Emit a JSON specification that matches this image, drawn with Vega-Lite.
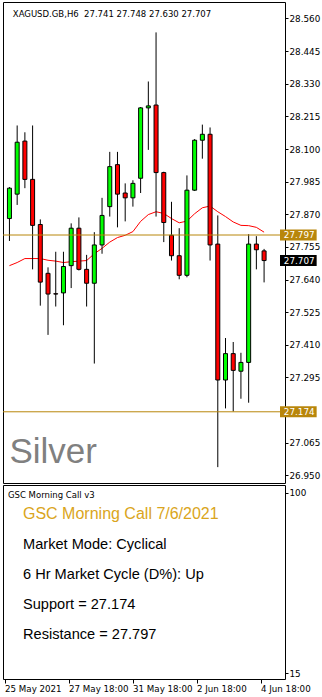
{
  "$schema": "https://vega.github.io/schema/vega-lite/v6.json",
  "padding": {"left": 1, "top": 1, "right": 0, "bottom": 0},
  "autosize": {"type": "pad"},
  "background": "white",
  "spacing": 2,
  "bounds": "flush",
  "config": {
    "view": {"stroke": "black", "strokeWidth": 1},
    "axis": {"grid": false, "domain": false, "ticks": true, "tickColor": "black", "labelColor": "black", "labelFont": "DejaVu Sans", "labelFontSize": 8.7, "labelOverlap": false, "labelBound": false, "labelFlush": false}
  },
  "datasets": {
    "candles": [
      {"i": 0, "open": 27.855, "high": 27.966, "low": 27.776, "close": 27.962, "ma": 27.689},
      {"i": 1, "open": 27.941, "high": 28.183, "low": 27.903, "close": 28.124, "ma": 27.700},
      {"i": 2, "open": 28.128, "high": 28.159, "low": 27.962, "close": 27.993, "ma": 27.714},
      {"i": 3, "open": 27.993, "high": 28.183, "low": 27.676, "close": 27.831, "ma": 27.714},
      {"i": 4, "open": 27.834, "high": 27.852, "low": 27.548, "close": 27.631, "ma": 27.714},
      {"i": 5, "open": 27.662, "high": 27.683, "low": 27.445, "close": 27.589, "ma": 27.708},
      {"i": 6, "open": 27.590, "high": 27.738, "low": 27.545, "close": 27.589, "ma": 27.705},
      {"i": 7, "open": 27.593, "high": 27.738, "low": 27.479, "close": 27.686, "ma": 27.700},
      {"i": 8, "open": 27.689, "high": 27.838, "low": 27.610, "close": 27.821, "ma": 27.703},
      {"i": 9, "open": 27.821, "high": 27.859, "low": 27.672, "close": 27.676, "ma": 27.705},
      {"i": 10, "open": 27.676, "high": 27.727, "low": 27.545, "close": 27.627, "ma": 27.707},
      {"i": 11, "open": 27.627, "high": 27.807, "low": 27.344, "close": 27.762, "ma": 27.731},
      {"i": 12, "open": 27.762, "high": 27.928, "low": 27.731, "close": 27.866, "ma": 27.750},
      {"i": 13, "open": 27.897, "high": 28.090, "low": 27.862, "close": 28.038, "ma": 27.772},
      {"i": 14, "open": 28.045, "high": 28.090, "low": 27.824, "close": 27.941, "ma": 27.788},
      {"i": 15, "open": 27.945, "high": 27.979, "low": 27.845, "close": 27.928, "ma": 27.796},
      {"i": 16, "open": 27.928, "high": 27.990, "low": 27.897, "close": 27.979, "ma": 27.809},
      {"i": 17, "open": 27.997, "high": 28.248, "low": 27.945, "close": 28.245, "ma": 27.845},
      {"i": 18, "open": 28.245, "high": 28.338, "low": 28.097, "close": 28.252, "ma": 27.869},
      {"i": 19, "open": 28.255, "high": 28.511, "low": 27.862, "close": 28.017, "ma": 27.879},
      {"i": 20, "open": 28.017, "high": 28.020, "low": 27.772, "close": 27.841, "ma": 27.873},
      {"i": 21, "open": 27.796, "high": 27.914, "low": 27.707, "close": 27.724, "ma": 27.855},
      {"i": 22, "open": 27.724, "high": 27.821, "low": 27.641, "close": 27.655, "ma": 27.840},
      {"i": 23, "open": 27.655, "high": 28.007, "low": 27.648, "close": 27.955, "ma": 27.846},
      {"i": 24, "open": 27.955, "high": 28.135, "low": 27.952, "close": 28.131, "ma": 27.872},
      {"i": 25, "open": 28.131, "high": 28.186, "low": 28.066, "close": 28.152, "ma": 27.893},
      {"i": 26, "open": 28.152, "high": 28.176, "low": 27.707, "close": 27.762, "ma": 27.899},
      {"i": 27, "open": 27.765, "high": 27.866, "low": 26.979, "close": 27.286, "ma": 27.879},
      {"i": 28, "open": 27.286, "high": 27.434, "low": 27.186, "close": 27.379, "ma": 27.862},
      {"i": 29, "open": 27.379, "high": 27.420, "low": 27.175, "close": 27.320, "ma": 27.843},
      {"i": 30, "open": 27.317, "high": 27.382, "low": 27.220, "close": 27.348, "ma": 27.831},
      {"i": 31, "open": 27.348, "high": 27.800, "low": 27.206, "close": 27.765, "ma": 27.830},
      {"i": 32, "open": 27.765, "high": 27.793, "low": 27.676, "close": 27.745, "ma": 27.824},
      {"i": 33, "open": 27.741, "high": 27.748, "low": 27.630, "close": 27.707, "ma": 27.807}
    ],
    "levels": [
      {"level": "Resistance", "price": 27.797},
      {"level": "Support", "price": 27.174}
    ],
    "notes": [
      {"line": 1, "text": "GSC Morning Call 7/6/2021"},
      {"line": 2, "text": "Market Mode: Cyclical"},
      {"line": 3, "text": "6 Hr Market Cycle (D%): Up"},
      {"line": 4, "text": "Support = 27.174"},
      {"line": 5, "text": "Resistance = 27.797"}
    ]
  },
  "vconcat": [
    {
      "width": 282,
      "height": 481,
      "layer": [
        {
          "data": {"name": "candles"},
          "mark": {"type": "line", "color": "#ff0000", "strokeWidth": 1, "clip": true},
          "encoding": {
            "x": {"field": "i", "type": "quantitative", "title": null, "scale": {"domain": [-0.1875, 35.0625], "nice": false, "zero": false}, "axis": null},
            "y": {"field": "ma", "type": "quantitative", "title": null,
                  "scale": {"domain": [26.9407, 28.6005], "nice": false, "zero": false},
                  "axis": {"orient": "right", "title": null, "values": [28.560, 28.445, 28.330, 28.215, 28.100, 27.985, 27.870, 27.755, 27.640, 27.525, 27.410, 27.295, 27.065, 26.950], "tickCount": 40, "format": ".3f", "tickSize": 3, "labelPadding": 1, "labelFontSize": 8.8, "labelOverlap": false, "labelBound": false, "labelFlush": false}}
          }
        },
        {
          "data": {"name": "candles"},
          "mark": {"type": "rule", "color": "black", "strokeWidth": 1, "clip": true},
          "encoding": {
            "x": {"field": "i", "type": "quantitative", "title": null},
            "y": {"field": "low", "type": "quantitative", "title": null},
            "y2": {"field": "high"}
          }
        },
        {
          "data": {"name": "candles"},
          "mark": {"type": "bar", "width": 4, "stroke": "black", "strokeWidth": 1, "clip": true},
          "encoding": {
            "x": {"field": "i", "type": "quantitative", "title": null},
            "y": {"field": "open", "type": "quantitative", "title": null},
            "y2": {"field": "close"},
            "fill": {"condition": {"test": "datum.close >= datum.open", "value": "#00ff00"}, "value": "#ff0000"}
          }
        },
        {
          "data": {"name": "levels"},
          "mark": {"type": "rule", "color": "#B8860B", "strokeWidth": 1},
          "encoding": {
            "y": {"field": "price", "type": "quantitative", "title": null}
          }
        },
        {
          "data": {"name": "levels"},
          "mark": {"type": "bar", "height": 11, "color": "#B8860B"},
          "encoding": {
            "x": {"datum": 35.0625, "title": null},
            "x2": {"datum": 39.8125},
            "y": {"field": "price", "type": "quantitative", "title": null}
          }
        },
        {
          "data": {"name": "levels"},
          "mark": {"type": "text", "align": "left", "baseline": "middle", "color": "white", "font": "DejaVu Sans", "fontSize": 8.8},
          "encoding": {
            "x": {"datum": 35.5625, "title": null},
            "y": {"field": "price", "type": "quantitative", "title": null},
            "text": {"field": "price", "type": "quantitative", "format": ".3f"}
          }
        },
        {
          "data": {"name": "candles"},
          "transform": [{"filter": "datum.i == 33"}],
          "mark": {"type": "bar", "height": 11, "color": "black"},
          "encoding": {
            "x": {"datum": 35.0625, "title": null},
            "x2": {"datum": 39.8125},
            "y": {"field": "close", "type": "quantitative", "title": null}
          }
        },
        {
          "data": {"name": "candles"},
          "transform": [{"filter": "datum.i == 33"}],
          "mark": {"type": "text", "align": "left", "baseline": "middle", "color": "white", "font": "DejaVu Sans", "fontSize": 8.8},
          "encoding": {
            "x": {"datum": 35.5625, "title": null},
            "y": {"field": "close", "type": "quantitative", "title": null},
            "text": {"field": "close", "type": "quantitative", "format": ".3f"}
          }
        },
        {
          "data": {"values": [{}]},
          "mark": {"type": "text", "text": "XAGUSD.GB,H6\u00a0 27.741 27.748 27.630 27.707", "align": "left", "baseline": "alphabetic", "color": "black", "font": "DejaVu Sans", "fontSize": 8.5},
          "encoding": {
            "x": {"datum": 0.4375, "title": null},
            "y": {"datum": 28.565, "title": null}
          }
        },
        {
          "data": {"values": [{}]},
          "mark": {"type": "text", "text": "Silver", "align": "left", "baseline": "alphabetic", "color": "#808080", "font": "Liberation Sans", "fontSize": 35},
          "encoding": {
            "x": {"datum": 0.0, "title": null},
            "y": {"datum": 26.995, "title": null}
          }
        }
      ]
    },
    {
      "width": 282,
      "height": 194,
      "resolve": {"scale": {"y": "independent"}, "axis": {"y": "independent"}},
      "layer": [
        {
          "data": {"values": [{}]},
          "mark": {"type": "point", "opacity": 0},
          "encoding": {
            "x": {"datum": 0, "title": null, "scale": {"domain": [-0.1875, 35.0625], "nice": false, "zero": false},
                  "axis": {"orient": "bottom", "title": null, "values": [0, 8, 16, 24, 32], "tickCount": 20,
                           "labelExpr": "datum.value == 0 ? '25 May 2021' : datum.value == 8 ? '27 May 18:00' : datum.value == 16 ? '31 May 18:00' : datum.value == 24 ? '2 Jun 18:00' : '4 Jun 18:00'",
                           "labelAlign": "left", "tickSize": 4, "labelPadding": 1}},
            "y": {"datum": 50, "title": null, "scale": {"domain": [12.3, 103.6], "nice": false, "zero": false},
                  "axis": {"orient": "right", "title": null, "values": [15, 100], "tickCount": 20, "format": "d", "tickSize": 3, "labelPadding": 1, "labelFontSize": 8.8}}
          }
        },
        {
          "data": {"name": "notes"},
          "mark": {"type": "text", "align": "left", "baseline": "alphabetic", "font": "Liberation Sans"},
          "encoding": {
            "x": {"datum": 2.3125, "title": null},
            "y": {"field": "line", "type": "quantitative", "title": null, "scale": {"domain": [-0.15, 6.3167], "reverse": true, "nice": false, "zero": false}, "axis": null},
            "text": {"field": "text"},
            "color": {"condition": {"test": "datum.line == 1", "value": "#DAA520"}, "value": "black"},
            "size": {"condition": {"test": "datum.line == 1", "value": 16}, "value": 14.6}
          }
        },
        {
          "data": {"values": [{}]},
          "mark": {"type": "text", "text": "GSC Morning Call v3", "align": "left", "baseline": "alphabetic", "color": "black", "font": "DejaVu Sans", "fontSize": 8.5},
          "encoding": {
            "x": {"datum": 0.4375, "title": null},
            "y": {"datum": 0.2433, "title": null, "scale": {"domain": [-0.2, 6.2667], "reverse": true, "nice": false, "zero": false}, "axis": null}
          }
        }
      ]
    }
  ]
}
